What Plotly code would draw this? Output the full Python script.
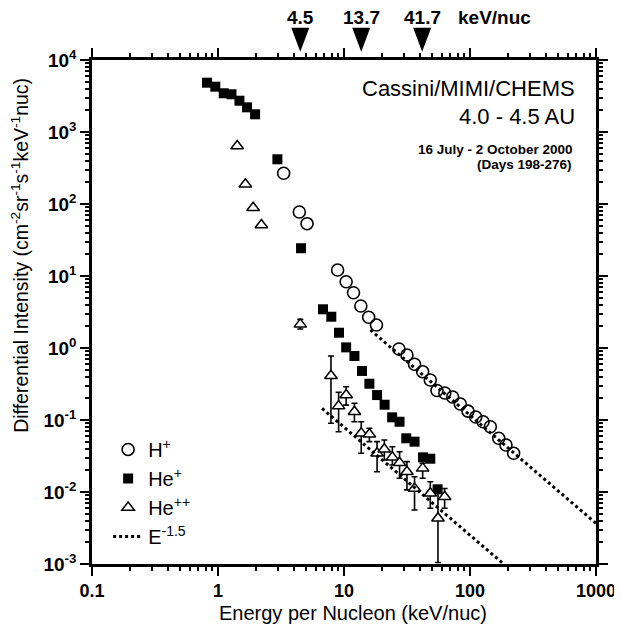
import math
import plotly.graph_objects as go

# H+ (open circles)
h_energy = [3.32, 4.42, 5.09, 8.90, 10.4, 11.9, 13.6, 15.7, 18.1, 27.3, 31.6, 36.3, 42.1,
            48.4, 54.7, 63.1, 72.8, 83.8, 96.4, 111, 127, 145, 169, 193, 222]
h_flux = [267, 77.4, 53.3, 12.1, 8.33, 5.86, 3.83, 2.67, 2.09, 0.968, 0.80, 0.594, 0.469,
          0.36, 0.257, 0.237, 0.209, 0.167, 0.133, 0.110, 0.0946, 0.0807, 0.0557, 0.045, 0.0345]

# He+ (filled squares)
he1_energy = [0.818, 0.952, 1.11, 1.28, 1.48, 1.70, 1.97, 2.96, 4.56, 6.81, 7.93, 9.13, 10.4,
              12.1, 13.9, 15.9, 18.3, 21.0, 24.1, 27.6, 31.2, 36.3, 42.4, 48.4, 55.3]
he1_flux = [4840, 4260, 3450, 3340, 2720, 2200, 1760, 418, 24.3, 3.45, 2.72, 1.63, 1.02,
            0.774, 0.48, 0.319, 0.222, 0.163, 0.109, 0.0946, 0.0557, 0.050, 0.0303, 0.029, 0.0109]

# He++ (open triangles) with error bar ends
he2_energy = [1.42, 1.65, 1.90, 2.21, 4.50, 7.88, 9.06, 10.4, 12.1, 13.7, 15.9, 18.3, 20.9,
              24.2, 27.6, 31.6, 36.3, 42.1, 48.4, 55.7, 62.9]
he2_flux = [639, 188, 88.9, 51.1, 2.13, 0.412, 0.156, 0.222, 0.130, 0.0653, 0.0633, 0.0345, 0.0392,
            0.0303, 0.0255, 0.0191, 0.0112, 0.0213, 0.0096, 0.00431, 0.0086]
he2_hi = [None, None, None, None, 2.50, 0.774, 0.243, 0.29, 0.171, 0.0946, 0.0767, 0.05, 0.0527,
          0.0426, 0.0363, 0.0264, 0.0163, 0.0251, 0.0139, 0.0096, 0.0112]
he2_lo = [None, None, None, None, 1.84, 0.090, 0.0688, 0.161, 0.0946, 0.0345, 0.05, 0.0191, 0.0278,
          0.0237, 0.0155, 0.0107, 0.00562, 0.0155, 0.00594, 0.00105, 0.00594]

# E^-1.5 reference lines (end points)
fit_h_energy = [16.2, 1000]
fit_h_flux = [1.78, 0.00367]
fit_he_energy = [6.7, 185]
fit_he_flux = [0.145, 0.001]

# arrival markers on top axis
mark_energy = [4.5, 13.7, 41.7]
mark_labels = ["4.5", "13.7", "41.7"]

xtick_vals = [0.1, 1, 10, 100, 1000]
xtick_text = ["0.1", "1", "10", "100", "1000"]
ytick_vals = [1e-3, 1e-2, 1e-1, 1, 10, 100, 1e3, 1e4]
ytick_text = ["10<sup>-3</sup>", "10<sup>-2</sup>", "10<sup>-1</sup>", "10<sup>0</sup>",
              "10<sup>1</sup>", "10<sup>2</sup>", "10<sup>3</sup>", "10<sup>4</sup>"]

FONT = "Liberation Sans, Arial, sans-serif"

err_plus = [None if h is None else h - y for h, y in zip(he2_hi, he2_flux)]
err_minus = [None if l is None else y - l for l, y in zip(he2_lo, he2_flux)]

fig = go.Figure()
fig.add_trace(go.Scatter(x=h_energy, y=h_flux, mode="markers", name="H<sup>+</sup>",
                         marker=dict(symbol="circle-open", size=12, color="black",
                                     line=dict(width=1.6, color="black"))))
fig.add_trace(go.Scatter(x=he1_energy, y=he1_flux, mode="markers", name="He<sup>+</sup>",
                         marker=dict(symbol="square", size=10, color="black")))
fig.add_trace(go.Scatter(x=he2_energy, y=he2_flux, mode="markers", name="He<sup>++</sup>",
                         marker=dict(symbol="triangle-up", size=11, color="white",
                                     line=dict(width=1.5, color="black")),
                         error_y=dict(type="data", symmetric=False, array=err_plus,
                                      arrayminus=err_minus, color="black",
                                      thickness=1.6, width=3)))
fig.add_trace(go.Scatter(x=fit_h_energy, y=fit_h_flux, mode="lines", name="E<sup>-1.5</sup>",
                         line=dict(color="black", width=3, dash="dot")))
fig.add_trace(go.Scatter(x=fit_he_energy, y=fit_he_flux, mode="lines", showlegend=False,
                         line=dict(color="black", width=3, dash="dot")))

axis_common = dict(showline=True, linewidth=2.5, linecolor="black", mirror="ticks",
                   ticks="outside", ticklen=9, tickwidth=2, tickcolor="black",
                   showgrid=False, zeroline=False, automargin=False,
                   minor=dict(ticks="outside", ticklen=4, tickwidth=1.5, tickcolor="black",
                              dtick="D1", showgrid=False))

fig.update_xaxes(type="log", range=[-1, 3], tickvals=xtick_vals, ticktext=xtick_text,
                 tickfont=dict(family=FONT, size=18, color="black", weight="bold"),
                 **axis_common)
fig.update_yaxes(type="log", range=[-3, 4], tickvals=ytick_vals, ticktext=ytick_text,
                 tickfont=dict(family=FONT, size=19, color="black", weight="bold"),
                 **axis_common)

# triangles on the top axis
for e, lab in zip(mark_energy, mark_labels):
    fig.add_shape(type="path", xref="x", yref="paper", xsizemode="pixel", ysizemode="pixel",
                  xanchor=e, yanchor=1.0165,
                  path="M -9,24 L 9,24 L 0,0 Z", fillcolor="black", line=dict(width=0))
    fig.add_annotation(x=math.log10(e), y=1.085, xref="x", yref="paper", text=lab,
                       xanchor="center", yanchor="middle", showarrow=False,
                       font=dict(family=FONT, size=19, weight="bold"))
fig.add_annotation(x=(456 - 91.7) / 504, y=1.085, xref="paper", yref="paper", text="keV/nuc",
                   xanchor="left", yanchor="middle", showarrow=False,
                   font=dict(family=FONT, size=19, weight="bold"))

# labels inside the plot
fig.add_annotation(x=0.962, y=0.9425, xref="paper", yref="paper", text="Cassini/MIMI/CHEMS",
                   xanchor="right", yanchor="middle", showarrow=False,
                   font=dict(family=FONT, size=22))
fig.add_annotation(x=0.962, y=0.8875, xref="paper", yref="paper", text="4.0 - 4.5 AU",
                   xanchor="right", yanchor="middle", showarrow=False,
                   font=dict(family=FONT, size=22))
fig.add_annotation(x=0.958, y=0.823, xref="paper", yref="paper", text="16 July - 2 October 2000",
                   xanchor="right", yanchor="middle", showarrow=False,
                   font=dict(family=FONT, size=13.5, weight="bold"))
fig.add_annotation(x=0.956, y=0.7925, xref="paper", yref="paper", text="(Days 198-276)",
                   xanchor="right", yanchor="middle", showarrow=False,
                   font=dict(family=FONT, size=13.5, weight="bold"))

# axis titles
fig.add_annotation(x=(353 - 91.7) / 504, y=-0.097, xref="paper", yref="paper",
                   text="Energy per Nucleon (keV/nuc)", xanchor="center", yanchor="middle",
                   showarrow=False, font=dict(family=FONT, size=20))
fig.add_annotation(x=(19.5 - 91.7) / 504, y=(564 - 255) / 504, xref="paper", yref="paper",
                   text="Differential Intensity (cm<sup>-2</sup>sr<sup>-1</sup>s<sup>-1</sup>keV<sup>-1</sup>nuc)",
                   textangle=-90, xanchor="center", yanchor="middle", showarrow=False,
                   font=dict(family=FONT, size=19.5))

# page body adds an 8px margin, so the figure sits 8px in from the window corner
fig.update_layout(width=614, height=625, margin=dict(l=84, r=26, t=52, b=69),
                  paper_bgcolor="white", plot_bgcolor="white",
                  font=dict(family=FONT, color="black"),
                  legend=dict(x=0.032, y=0.266, xanchor="left", yanchor="top",
                              bgcolor="rgba(0,0,0,0)", tracegroupgap=0,
                              font=dict(family=FONT, size=20, color="black")))

fig.write_html("out.html")
